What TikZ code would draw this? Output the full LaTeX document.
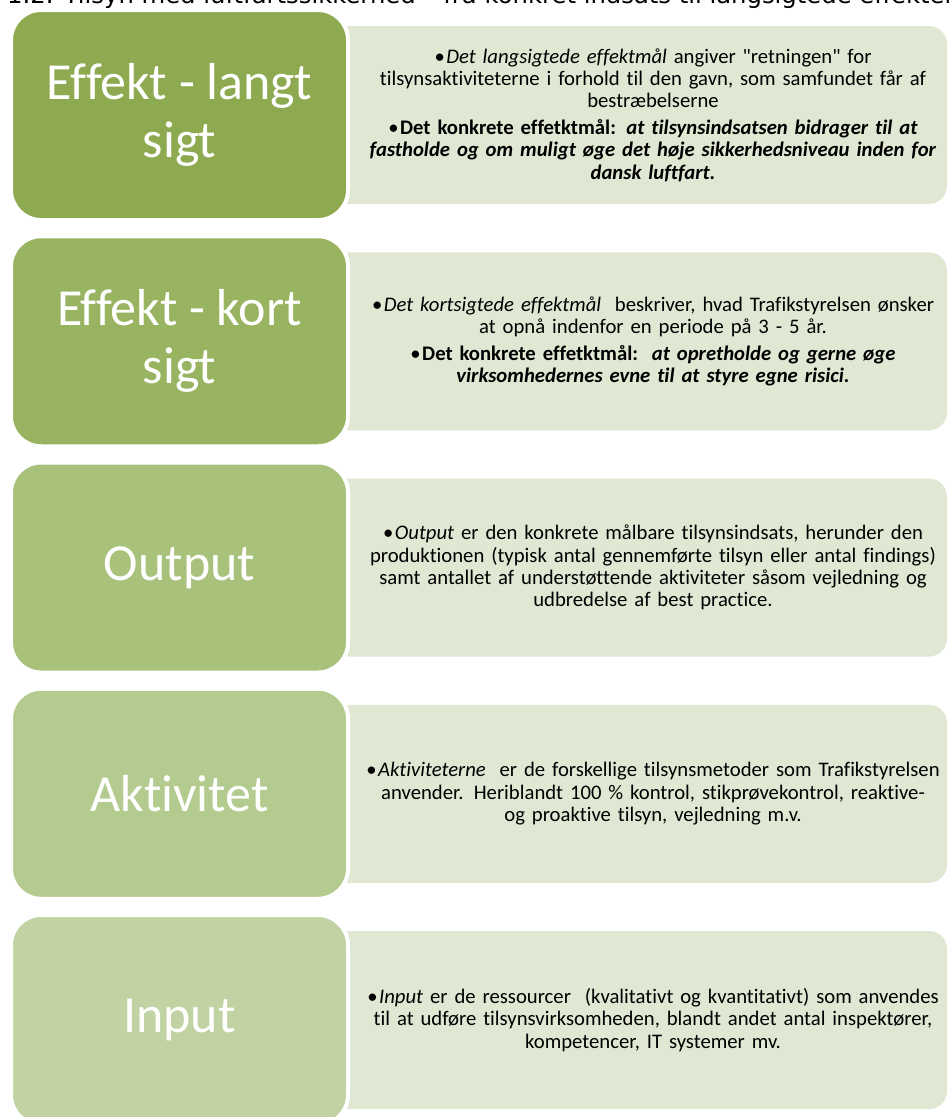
\documentclass[tikz,border=0pt]{standalone}
\usepackage{fontspec}
\setmainfont{Carlito}[Ligatures={TeXOff,NoCommon}]
\newfontfamily\titlefont{DejaVu Sans}
\definecolor{gA}{RGB}{141,170,80}
\definecolor{gB}{RGB}{152,180,97}
\definecolor{gC}{RGB}{168,194,124}
\definecolor{gD}{RGB}{180,203,143}
\definecolor{gE}{RGB}{193,211,163}
\definecolor{paleG}{RGB}{224,232,212}
\tikzset{
  leftbox/.style={rectangle, draw=white, line width=4pt, rounded corners=30pt,
    minimum width=337pt, minimum height=210pt, inner sep=0pt,
    text=white, font=\fontsize{52}{58}\selectfont, align=center},
  rightbox/.style={rectangle, fill=paleG, rounded corners=18pt,
    minimum width=647pt, minimum height=178pt, inner sep=0pt},
  desc/.style={text=black, font=\fontsize{20.7}{22.3}\selectfont, align=center,
    text width=600pt, inner sep=0pt},
  titletext/.style={anchor=base west, inner sep=0pt, font=\titlefont\fontsize{24.3}{28}\selectfont}
}
\newcommand{\bul}{•\hspace{1.5pt}}
\begin{document}
\begin{tikzpicture}[x=1pt,y=-1pt]
\useasboundingbox (0,0) rectangle (949,1117);
\begin{scope}
\clip (0,0) rectangle (949,1117);
\node[titletext] (title) at (7,3) {1.2. Tilsyn med luftfartssikkerhed – fra konkret indsats til langsigtede effekter};

% row 1
\node[rightbox] (R1) at (623.5,115) {};
\node[leftbox, fill=gA] (L1) at (179.5,115) {Effekt - langt\\sigt};
\node[desc] (D1) at (653,115) {\bul\textit{Det langsigtede effektmål} angiver "retningen" for\\
tilsynsaktiviteterne i forhold til den gavn, som samfundet får af\\
bestræbelserne\\[4.5pt]
\bul\textbf{Det konkrete effetktmål: \textit{at tilsynsindsatsen bidrager til at}}\\
\textbf{\textit{fastholde og om muligt øge det høje sikkerhedsniveau inden for}}\\
\textbf{\textit{dansk luftfart.}}};

% row 2
\node[rightbox] (R2) at (623.5,341.25) {};
\node[leftbox, fill=gB] (L2) at (179.5,341.25) {Effekt - kort\\sigt};
\node[desc] (D2) at (653,341.25) {\bul\textit{Det kortsigtede effektmål}\ \ beskriver, hvad Trafikstyrelsen ønsker\\
at opnå indenfor en periode på 3 - 5 år.\\[4.5pt]
\bul\textbf{Det konkrete effetktmål:\ \ \textit{at opretholde og gerne øge}}\\
\textbf{\textit{virksomhedernes evne til at styre egne risici.}}};

% row 3
\node[rightbox] (R3) at (623.5,567.5) {};
\node[leftbox, fill=gC] (L3) at (179.5,567.5) {Output};
\node[desc] (D3) at (653,567.5) {\bul\textit{Output} er den konkrete målbare tilsynsindsats, herunder den\\
produktionen (typisk antal gennemførte tilsyn eller antal findings)\\
samt antallet af understøttende aktiviteter såsom vejledning og\\
udbredelse af best practice.};

% row 4
\node[rightbox] (R4) at (623.5,793.75) {};
\node[leftbox, fill=gD] (L4) at (179.5,793.75) {Aktivitet};
\node[desc] (D4) at (653,793.75) {\bul\textit{Aktiviteterne}\ \ er de forskellige tilsynsmetoder som Trafikstyrelsen\\
anvender. Heriblandt 100 \% kontrol, stikprøvekontrol, reaktive-\\
og proaktive tilsyn, vejledning m.v.};

% row 5
\node[rightbox] (R5) at (623.5,1020) {};
\node[leftbox, fill=gE] (L5) at (179.5,1020) {Input};
\node[desc] (D5) at (653,1020) {\bul\textit{Input} er de ressourcer\ \ (kvalitativt og kvantitativt) som anvendes\\
til at udføre tilsynsvirksomheden, blandt andet antal inspektører,\\
kompetencer, IT systemer mv.};
\end{scope}
\end{tikzpicture}
\end{document}
